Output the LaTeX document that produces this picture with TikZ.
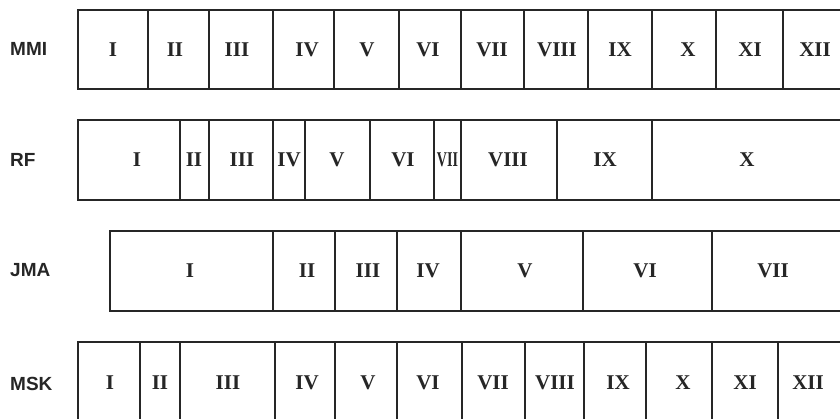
\documentclass[tikz,border=0pt]{standalone}
\usepackage{fontspec}
\usepackage{graphicx}
\setmainfont{Liberation Serif}
\newfontfamily\lblfont{Liberation Sans}
\begin{document}
\begin{tikzpicture}[x=1pt,y=-1pt,
  cell/.style={font=\fontsize{21}{25}\selectfont\bfseries, text=black!85, inner sep=0pt},
  rowlbl/.style={anchor=west, inner sep=0pt, font=\lblfont\fontsize{19}{23}\selectfont\bfseries, text=black!85},
  frame/.style={draw=black!85, line width=1.6pt}]
\useasboundingbox (0,0) rectangle (840,418);
\fill[white] (0,0) rectangle (840,418);
\clip (0,0) rectangle (840,418);

% ---------- MMI ----------
\node[rowlbl] (lmmi) at (10,49) {MMI};
\draw[frame] (78,10) rectangle (870,89);
\foreach \x in {148,209,273,334,399,461,524,588,652,716,783}
  \draw[frame] (\x,10) -- (\x,89);
\foreach \t/\x [count=\i] in {I/113,II/175,III/237,IV/307,V/367,VI/428,VII/492,VIII/557,IX/620,X/688,XI/750,XII/815}
  \node[cell] (mmi\i) at (\x,49.5) {\t};

% ---------- RF ----------
\node[rowlbl] (lrf) at (10,160) {RF};
\draw[frame] (78,120) rectangle (870,200);
\foreach \x in {180,209,273,305,370,434,461,557,652}
  \draw[frame] (\x,120) -- (\x,200);
\foreach \t/\x [count=\i] in {I/137,II/194,III/242,IV/289,V/337,VI/403}
  \node[cell] (rf\i) at (\x,160) {\t};
\node[cell] (rf7) at (447.5,160) {\scalebox{0.67}[1]{VII}};
\foreach \t/\x [count=\i from 8] in {VIII/508,IX/605,X/747}
  \node[cell] (rf\i) at (\x,160) {\t};

% ---------- JMA ----------
\node[rowlbl] (ljma) at (10,270) {JMA};
\draw[frame] (110,231) rectangle (870,311);
\foreach \x in {273,335,397,461,583,712}
  \draw[frame] (\x,231) -- (\x,311);
\foreach \t/\x [count=\i] in {I/190,II/307,III/368,IV/428,V/525,VI/645,VII/773}
  \node[cell] (jma\i) at (\x,270.5) {\t};

% ---------- MSK ----------
\node[rowlbl] (lmsk) at (10,384) {MSK};
\draw[frame] (78,342) rectangle (870,440);
\foreach \x in {140,180,275,335,397,462,525,584,646,712,778}
  \draw[frame] (\x,342) -- (\x,440);
\foreach \t/\x [count=\i] in {I/110,II/160,III/228,IV/307,V/368,VI/428,VII/493,VIII/555,IX/618,X/683,XI/745,XII/808}
  \node[cell] (msk\i) at (\x,383) {\t};
\end{tikzpicture}
\end{document}
